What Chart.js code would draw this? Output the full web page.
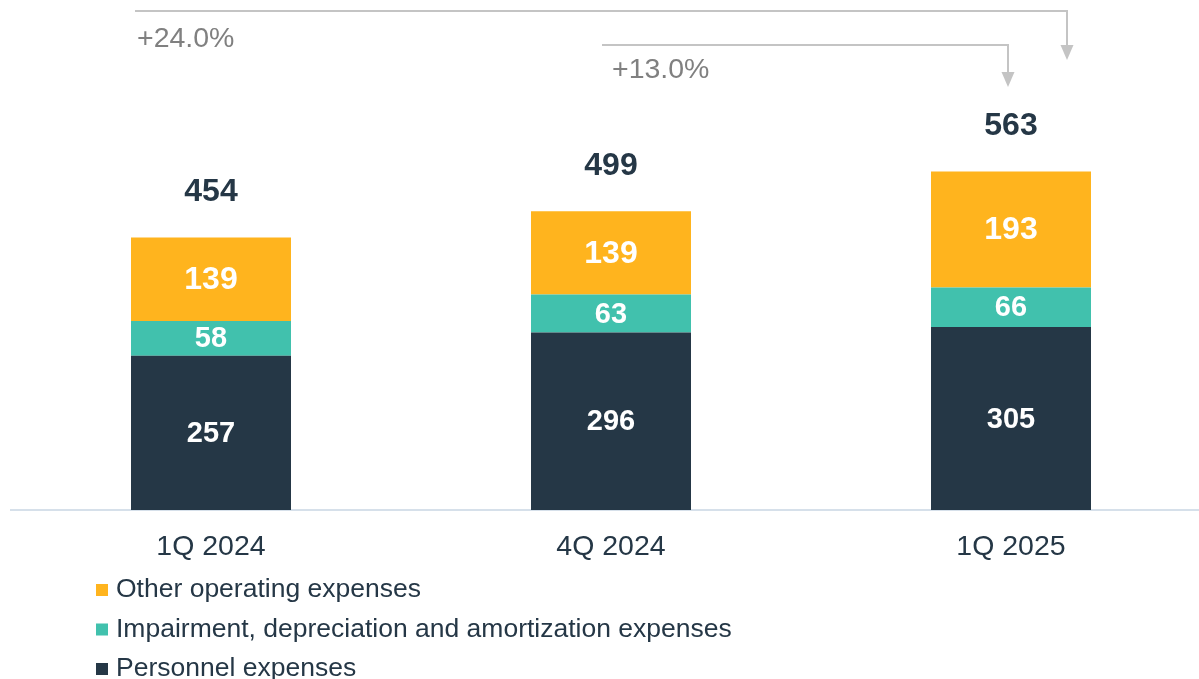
<!DOCTYPE html>
<html>
<head>
<meta charset="utf-8">
<script src="https://cdn.jsdelivr.net/npm/chart.js@4/dist/chart.umd.min.js"></script>
<style>
html,body{margin:0;padding:0;background:#fff;overflow:hidden;width:1199px;height:679px;}
canvas{position:absolute;left:0;top:0;}
</style>
</head>
<body>
<canvas id="c" width="1212" height="679"></canvas>
<script>
const categories = ["1Q 2024", "4Q 2024", "1Q 2025"];
const personnel = [257, 296, 305];
const impairment = [58, 63, 66];
const otherOpex = [139, 139, 193];
const totals = [454, 499, 563];
const seriesNames = ["Personnel expenses", "Impairment, depreciation and amortization expenses", "Other operating expenses"];
const growthLabels = ["+24.0%", "+13.0%"];

const NAVY = "#253746", TEAL = "#41c1ad", ORANGE = "#ffb41e";
const FONT = "'Liberation Sans', Arial, sans-serif";
const segFontSizes = [29, 29, 32];

const overlay = {
  id: "overlay",
  afterDatasetsDraw(chart) {
    const ctx = chart.ctx;
    const metas = [0,1,2].map(i => chart.getDatasetMeta(i));
    ctx.save();
    ctx.textAlign = "center";
    ctx.textBaseline = "middle";
    ctx.fillStyle = "#ffffff";
    metas.forEach((m, di) => {
      ctx.font = "bold " + segFontSizes[di] + "px " + FONT;
      m.data.forEach((bar, i) => {
        const v = chart.data.datasets[di].data[i];
        ctx.fillText(String(v), bar.x, (bar.y + bar.base) / 2 + 1);
      });
    });
    // totals
    ctx.font = "bold 32px " + FONT;
    ctx.fillStyle = NAVY;
    metas[2].data.forEach((bar, i) => {
      ctx.fillText(String(totals[i]), bar.x, bar.y - 45);
    });
    // growth arrows
    const b0 = metas[0].data[0], b1 = metas[0].data[1], b2 = metas[0].data[2];
    const half = (b0.width) / 2;
    ctx.strokeStyle = "#c4c4c4";
    ctx.fillStyle = "#c4c4c4";
    ctx.lineWidth = 2;
    function arrow(x1, y, x2, yTip) {
      ctx.beginPath();
      ctx.moveTo(x1, y);
      ctx.lineTo(x2, y);
      ctx.lineTo(x2, yTip - 12);
      ctx.stroke();
      ctx.beginPath();
      ctx.moveTo(x2 - 6.5, yTip - 15);
      ctx.lineTo(x2 + 6.5, yTip - 15);
      ctx.lineTo(x2, yTip);
      ctx.closePath();
      ctx.fill();
    }
    arrow(b0.x - half + 4, 11, b2.x + 56, 60);
    arrow(b1.x - 9, 45, b2.x - 3, 87);
    ctx.font = "28.5px " + FONT;
    ctx.textAlign = "left";
    ctx.fillStyle = "#808080";
    ctx.fillText(growthLabels[0], b0.x - half + 6, 39);
    ctx.fillText(growthLabels[1], b1.x + 1, 70);
    // legend
    const legendItems = [[seriesNames[2], ORANGE], [seriesNames[1], TEAL], [seriesNames[0], NAVY]];
    ctx.font = "26.5px " + FONT;
    legendItems.forEach((it, k) => {
      const y = 590 + k * 39.5;
      ctx.fillStyle = it[1];
      ctx.fillRect(96, y - 6, 12, 12);
      ctx.fillStyle = NAVY;
      ctx.fillText(it[0], 116, y);
    });
    ctx.restore();
  }
};

new Chart(document.getElementById("c"), {
  type: "bar",
  data: {
    labels: categories,
    datasets: [
      { label: seriesNames[0], data: personnel, backgroundColor: NAVY },
      { label: seriesNames[1], data: impairment, backgroundColor: TEAL },
      { label: seriesNames[2], data: otherOpex, backgroundColor: ORANGE }
    ]
  },
  options: {
    responsive: false,
    animation: false,
    devicePixelRatio: 1,
    layout: { padding: { left: 11, right: 1, top: 0, bottom: 0 } },
    datasets: { bar: { barPercentage: 0.4, categoryPercentage: 1, borderWidth: 0 } },
    plugins: { legend: { display: false }, tooltip: { enabled: false } },
    scales: {
      x: {
        stacked: true,
        grid: { display: false, drawTicks: false },
        border: { display: true, color: "#d6e0ea", width: 2 },
        ticks: { color: NAVY, font: { family: FONT, size: 28.5 }, padding: 20 },
        afterFit(scale) { scale.height = 169; }
      },
      y: {
        stacked: true,
        display: false,
        min: 0,
        max: 850
      }
    }
  },
  plugins: [overlay]
});
</script>
</body>
</html>
